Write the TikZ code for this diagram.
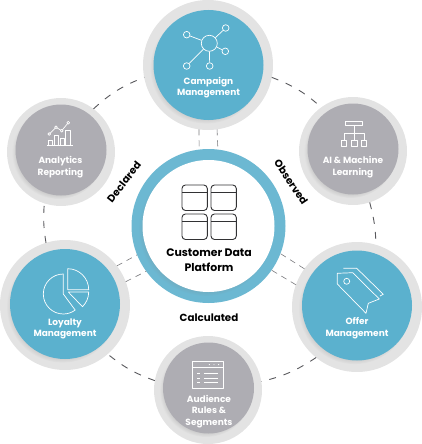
\documentclass[tikz,border=0pt]{standalone}
\usepackage{fontspec}
\setmainfont{Poppins}
\usetikzlibrary{
    arrows.meta,
    shadows
}
\definecolor{PanelBlue}{RGB}{91,177,206}
\definecolor{HubBlue}{RGB}{108,184,210}
\definecolor{PanelGray}{RGB}{174,173,179}
\definecolor{RingGray}{RGB}{227,227,227}
\definecolor{LinkGray}{RGB}{88,88,92}
\definecolor{IconDark}{RGB}{50,50,52}
\tikzset{
  softshadow/.style = {circular drop shadow={shadow xshift=-2.5pt, shadow yshift=-2.5pt,
                       shadow scale=1.02, opacity=0.35}},
  ring/.style      = {circle, fill=RingGray, inner sep=0pt, outer sep=0pt},
  disc/.style      = {circle, softshadow, inner sep=0pt, outer sep=0pt},
  bigring/.style   = {ring, minimum size=130pt},
  smallring/.style = {ring, minimum size=108pt},
  bigdisc/.style   = {disc, fill=PanelBlue, minimum size=110pt},
  smalldisc/.style = {disc, fill=PanelGray, minimum size=91pt},
  lab/.style       = {text=white, align=center, font=\fontsize{9}{11.5}\selectfont\bfseries},
  darklab/.style   = {text=black, align=center, font=\fontsize{10.3}{12}\selectfont\bfseries},
  link/.style      = {LinkGray, line width=0.9pt, dash pattern=on 7pt off 8pt},
  hublink/.style   = {LinkGray!80, line width=0.6pt, dash pattern=on 6pt off 5pt},
  iconw/.style     = {draw=white, line width=0.7pt, line join=round},
  iconk/.style     = {draw=IconDark, line width=0.9pt},
  sat/.style       = {circle, draw=white, line width=0.7pt, minimum size=6.6pt, inner sep=0pt}
}

\begin{document}
\begin{tikzpicture}[x=1pt, y=-1pt]
\useasboundingbox (0,0) rectangle (422,444);
\node[bigring]   (camp)     at (208,65)  {};
\node[smallring] (ai)       at (353,151) {};
\node[bigring]   (offer)    at (357,307) {};
\node[smallring] (audience) at (208,390) {};
\node[bigring]   (loyalty)  at (65,305)  {};
\node[smallring] (analytics) at (61,152) {};
\node[circle, fill=HubBlue, inner sep=0pt, outer sep=0pt, minimum size=154pt] (hub) at (208.5,226) {};
% outer dashed ring
\draw[link] (camp.-11.5) to[bend left=10.4] (ai.126.8);
\draw[link] (ai.-72.2) to[bend left=6.6] (offer.73.6);
\draw[link] (offer.-129.4) to[bend left=10] (audience.9.5);
\draw[link] (audience.170.5) to[bend left=9.5] (loyalty.-49.6);
\draw[link] (loyalty.107.4) to[bend left=6.8] (analytics.252.8);
\draw[link] (analytics.53.8) to[bend left=10.6] (camp.191.5);
% double links to the hub
\draw[hublink] (camp.262) -- (hub.97);
\draw[hublink] (camp.278) -- (hub.83);
\draw[hublink] (loyalty.37) -- (hub.202);
\draw[hublink] (loyalty.21) -- (hub.216);
\draw[hublink] (offer.144) -- (hub.339);
\draw[hublink] (offer.160) -- (hub.325);
\node[bigdisc]   (campdisc)  at (208.5,65)  {};
\node[smalldisc] (aidisc)    at (353,149)   {};
\node[bigdisc]   (offerdisc) at (357,305.5) {};
\node[smalldisc] (audiencedisc) at (208.5,388) {};
\node[bigdisc]   (loyaltydisc)  at (65,304) {};
\node[smalldisc] (analyticsdisc) at (61,150) {};
\node[disc, fill=white, minimum size=132pt] (hubdisc) at (208.5,226) {};
% labels
\node[lab] (camplab) at (208.5,87.5) {Campaign\\Management};
\node[lab] (ailab) at (353,167) {AI \& Machine\\Learning};
\node[lab] (offerlab) at (357,328) {Offer\\Management};
\node[lab] (audiencelab) at (209,411.5) {Audience\\Rules \&\\Segments};
\node[lab] (loyaltylab) at (65,329) {Loyalty\\Management};
\node[lab] (analyticslab) at (60.5,167) {Analytics\\Reporting};
\node[darklab, font=\fontsize{10.9}{14.5}\selectfont\bfseries] (hublab) at (209,260) {Customer Data\\Platform};
\node[darklab] (calclab) at (209,318) {Calculated};
\node[darklab, rotate=52] (decllab) at (124,182) {Declared};
\node[darklab, rotate=-56] (obslab) at (291,182) {Observed};
% campaign icon
\node[sat, minimum size=16pt] (net) at (209.3,43.3) {};
\foreach \sx/\sy [count=\i] in {186.7/34.7, 225.7/28, 225.3/51.3, 186.7/66, 209.7/66}{
  \node[sat] (sat\i) at (\sx,\sy) {};
  \draw[iconw] (net) -- (sat\i);
}
% analytics icon
\draw[iconw] (46.7,145) -- (72.7,145);
\draw[iconw] (48.3,145) rectangle (52.7,140);
\draw[iconw] (54.3,145) rectangle (58.7,135);
\draw[iconw] (60,145) rectangle (64,138);
\draw[iconw] (65.7,145) rectangle (70,130);
\draw[iconw] (49.3,134) -- (56,127.3) -- (61.7,130.7) -- (68.3,122.7);
\foreach \sx/\sy in {49.3/134, 56/127.3, 61.7/130.7, 68.3/122.7}{
  \fill[PanelGray] (\sx,\sy) circle[radius=1.4pt];
  \draw[iconw] (\sx,\sy) circle[radius=1.4pt];
}
% ai icon
\draw[iconw] (345.7,121) rectangle (362.7,125.3);
\draw[iconw] (354,125.3) -- (354,140);
\draw[iconw] (344,140.7) -- (344,133.3) -- (364,133.3) -- (364,140.7);
\foreach \sx in {341.3,351.5,361.3}{
  \draw[iconw] (\sx,140.7) rectangle +(5.4,5.4);
}
% loyalty icon
\draw[iconw] (63.3,274) arc[start angle=90, end angle=306.5, radius=20pt] -- (63.3,294) -- cycle;
\draw[iconw] (67.7,268.7) arc[start angle=90, end angle=0, radius=21pt] -- (67.7,289.7) -- cycle;
\draw[iconw] (88.7,292) arc[start angle=0, end angle=-46, radius=20.4pt] -- (68.3,292) -- cycle;
% offer icon
\draw[iconw] (337.3,273.3) -- (352.7,272.7) -- (379.3,299) -- (368.3,303.3) -- (366,313.3) -- (337.3,284) -- cycle;
\draw[iconw] (343.3,268.3) -- (356.7,268.3) -- (383.3,294.3) -- (380,296);
\draw[iconw] (346.7,281.3) circle[radius=3pt];
% audience icon
\draw[iconw] (192.7,361.7) rectangle (223.3,388.3);
\draw[iconw] (192.7,367.3) -- (223.3,367.3);
\foreach \sx in {209.3,214,218.7}{
  \fill[white] (\sx,364.6) circle[radius=0.6pt];
}
\foreach \sy in {373.3,378.3,382.7}{
  \draw[iconw] (197.3,\sy) -- (200,\sy);
  \draw[iconw] (204,\sy) -- (218.3,\sy);
}
% hub icon
\foreach \sx in {182,211}{
  \foreach \sy in {185,214}{
    \draw[iconk, rounded corners=3.5pt] (\sx,\sy) rectangle +(25.3,25.5);
    \draw[iconk] (\sx,\sy+7) -- +(25.3,0);
  }
}
\end{tikzpicture}
\end{document}
